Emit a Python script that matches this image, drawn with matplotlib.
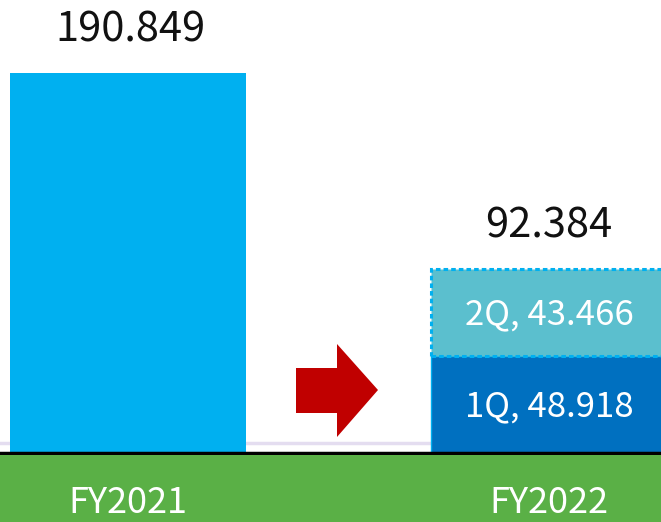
import matplotlib
matplotlib.use("Agg")
import matplotlib.pyplot as plt
from matplotlib.patches import Polygon, Rectangle

plt.rcParams['font.family'] = ['Noto Sans CJK JP', 'DejaVu Sans']

categories = ['FY2021', 'FY2022']
fy2021_total = [190.849]
q1_values = [48.918]
q2_values = [43.466]
q_labels = ['1Q', '2Q']

W, H = 661, 522
fig = plt.figure(figsize=(W / 100, H / 100), dpi=100)
fig.patch.set_facecolor('white')

# green band at bottom
fig.patches.append(Rectangle((0, 0), 1, 67 / H, transform=fig.transFigure,
                             facecolor='#5AB046', edgecolor='none', zorder=0))

ax = fig.add_axes([0, (H - 453) / H, 1, 453 / H])
ax.set_facecolor('none')
ppu = 1.991
ax.set_ylim(0, 453 / ppu)
ax.set_xlim(-128 / 421, (661 - 128) / 421)
ax.axis('off')

width = 236 / 421
ax.bar([0], fy2021_total, width=width, color='#00B0F0', zorder=2)

ax.bar([1], q1_values, width=width, color='#0070C0', zorder=2,
       edgecolor='#00B0F0', linewidth=1.0)
ax.bar([1], q2_values, bottom=q1_values, width=width, color='#5BBFCE', zorder=3,
       edgecolor='#00B0F0', linewidth=2.2, linestyle=(0, (1.5, 1.0)))

total22 = q1_values[0] + q2_values[0]
ax.text(0.005, fy2021_total[0] + 11.1, f"{fy2021_total[0]:.3f}", ha='center', va='bottom',
        fontsize=30, color='#111111')
ax.text(1, total22 + 11.1, f"{total22:.3f}", ha='center', va='bottom',
        fontsize=30, color='#111111')
ax.text(1, q1_values[0] / 2 - 1.2, f"{q_labels[0]}, {q1_values[0]:.3f}", ha='center', va='center',
        fontsize=25, color='white', zorder=5)
ax.text(1, q1_values[0] + q2_values[0] / 2 - 1.2, f"{q_labels[1]}, {q2_values[0]:.3f}",
        ha='center', va='center', fontsize=25, color='white', zorder=5)

# faint shadow line and baseline
ax.axhline(10 / ppu, color='#E4DDF0', linewidth=2.5, zorder=1)
ax.axhline(0, color='black', linewidth=2.5, zorder=6, clip_on=False)

# red arrow (decoration) in pixel-based axes coords
def px(x, y):
    return (x / W, (453 - y) / 453)
pts = [px(296, 368), px(337, 368), px(337, 344), px(378, 390), px(337, 437),
       px(337, 413), px(296, 413)]
ax.add_patch(Polygon(pts, closed=True, transform=ax.transAxes, facecolor='#C00000',
                     edgecolor='none', zorder=4))

for i, cat in enumerate(categories):
    xdisp = ax.transData.transform((i, 0))[0]
    fig.text(xdisp / W, 9 / H, cat, ha='center', va='baseline', fontsize=26, color='white')

fig.savefig('out.png', dpi=100)
